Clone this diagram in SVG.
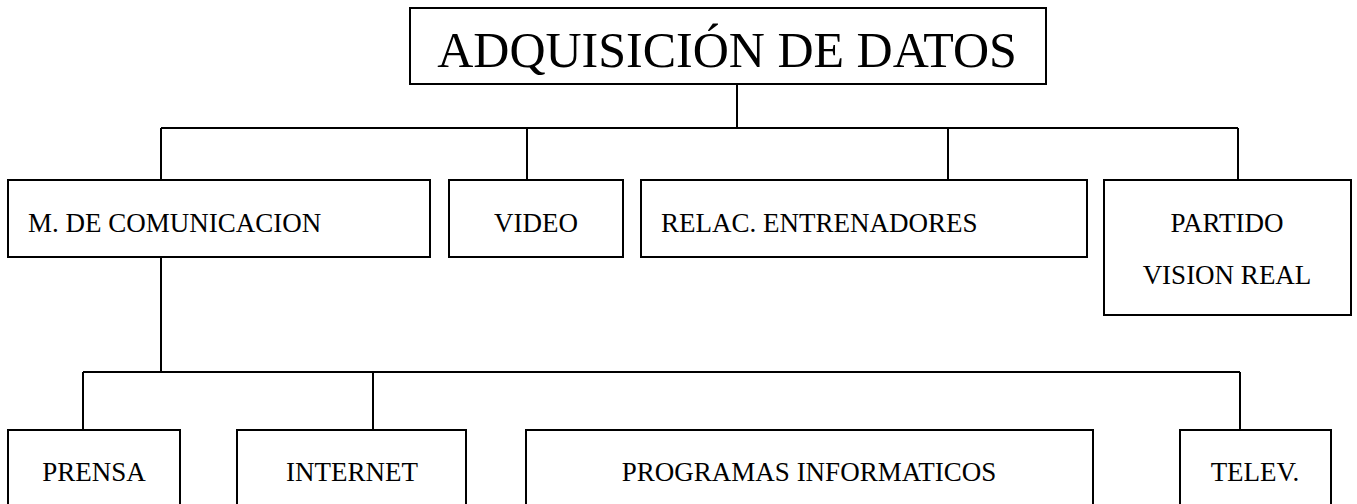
<svg xmlns="http://www.w3.org/2000/svg" width="1357" height="504" viewBox="0 0 1357 504">
<style>
.box{fill:#fff;stroke:#000;stroke-width:2}
.ln{fill:none;stroke:#000;stroke-width:2}
.t{font-family:"Liberation Serif","Times New Roman",serif;font-size:27px;fill:#000}
.big{font-family:"Liberation Serif","Times New Roman",serif;font-size:50px;fill:#000}
</style>
<rect width="1357" height="504" fill="#fff"/>
<g id="connectors">
<path class="ln" d="M737 84V128M161 128H1238M161 128V180M527 128V180M948 128V180M1238 128V180"/>
<path class="ln" d="M161 257V372M83 372H1240M83 372V430M373 372V430M1240 372V430"/>
</g>
<g id="n-adq"><rect class="box" x="410" y="8" width="636" height="76"/><text class="big" x="727" y="67" text-anchor="middle">ADQUISICIÓN DE DATOS</text></g>
<g id="n-mcom"><rect class="box" x="8" y="180" width="422" height="77"/><text class="t" x="28" y="232">M. DE COMUNICACION</text></g>
<g id="n-video"><rect class="box" x="449" y="180" width="174" height="77"/><text class="t" x="536" y="232" text-anchor="middle">VIDEO</text></g>
<g id="n-relac"><rect class="box" x="641" y="180" width="446" height="77"/><text class="t" x="661" y="232">RELAC. ENTRENADORES</text></g>
<g id="n-partido"><rect class="box" x="1104" y="180" width="247" height="135"/><text class="t" x="1227" y="232" text-anchor="middle">PARTIDO</text><text class="t" x="1227" y="284" text-anchor="middle">VISION REAL</text></g>
<g id="n-prensa"><rect class="box" x="8" y="430" width="172" height="80"/><text class="t" x="94" y="481" text-anchor="middle">PRENSA</text></g>
<g id="n-internet"><rect class="box" x="237" y="430" width="229" height="80"/><text class="t" x="352" y="481" text-anchor="middle">INTERNET</text></g>
<g id="n-prog"><rect class="box" x="526" y="430" width="567" height="80"/><text class="t" x="809" y="481" text-anchor="middle">PROGRAMAS INFORMATICOS</text></g>
<g id="n-telev"><rect class="box" x="1180" y="430" width="151" height="80"/><text class="t" x="1255" y="481" text-anchor="middle">TELEV.</text></g>
</svg>
